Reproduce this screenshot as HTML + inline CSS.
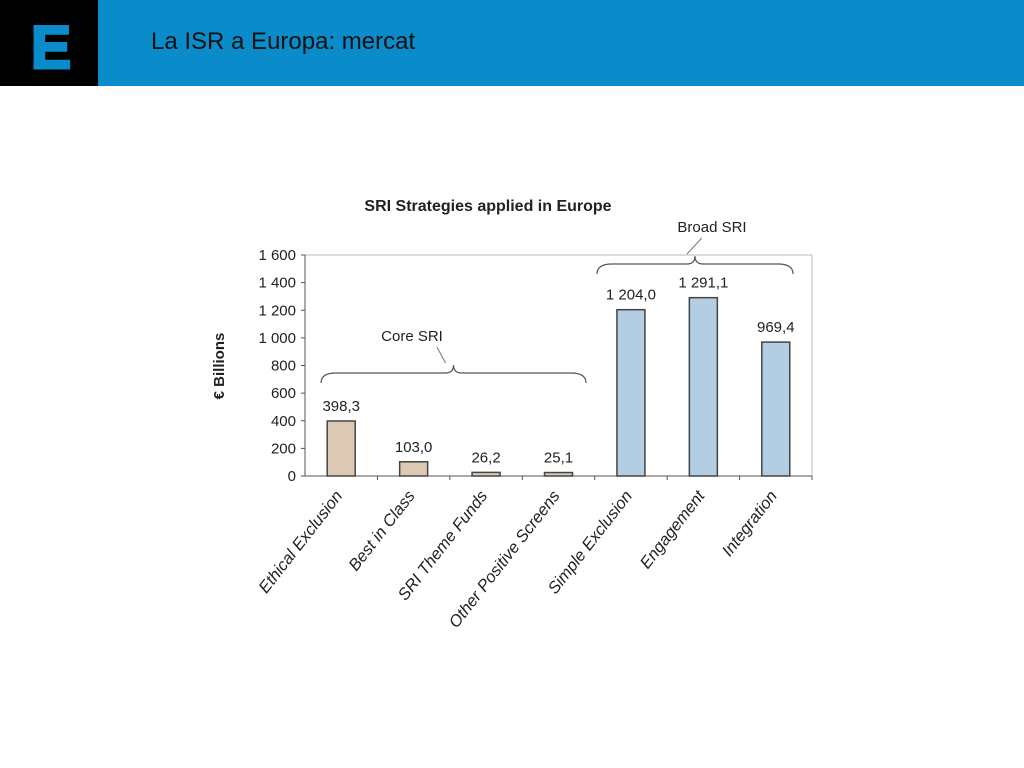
<!DOCTYPE html>
<html><head><meta charset="utf-8"><style>
body{margin:0;width:1024px;height:768px;background:#fff;overflow:hidden;font-family:"Liberation Sans",sans-serif}
#hdr{position:absolute;left:0;top:0;width:1024px;height:86px;background:#0a8cca}
#logo{position:absolute;left:0;top:0;width:98px;height:86px;background:#000}
</style></head><body>
<div id="hdr"></div>
<div id="logo"><svg width="98" height="86"><text x="51" y="68" text-anchor="middle" font-family="Liberation Sans" font-weight="bold" font-size="60" fill="#0a8cca" stroke="#0a8cca" stroke-width="3">E</text></svg></div>
<div style="position:absolute;left:151px;top:28px;font-size:24px;color:#111">La ISR a Europa: mercat</div>
<svg id="c" width="1024" height="768" style="position:absolute;left:0;top:0"></svg>
<script>
const categories=["Ethical Exclusion","Best in Class","SRI Theme Funds","Other Positive Screens","Simple Exclusion","Engagement","Integration"];
const values=[398.3,103.0,26.2,25.1,1204.0,1291.1,969.4];
const valueLabels=["398,3","103,0","26,2","25,1","1 204,0","1 291,1","969,4"];
const groups=["core","core","core","core","broad","broad","broad"];
const ticks=[0,200,400,600,800,1000,1200,1400,1600];
const tickLabels=["0","200","400","600","800","1 000","1 200","1 400","1 600"];
const svg=document.getElementById('c');const NS="http://www.w3.org/2000/svg";
const L=305,R=812,T=255,B=476,max=1600;
const y=v=>B-(v/max)*(B-T);const step=(R-L)/categories.length;const x=i=>L+step*(i+0.5);
function mk(t,a,p){const e=document.createElementNS(NS,t);for(const k in a)e.setAttribute(k,a[k]);(p||svg).appendChild(e);return e;}
let e=mk('rect',{x:L,y:T,width:R-L,height:B-T,fill:'none',stroke:'#bbb'});


e=mk('text',{x:488,y:211,'text-anchor':'middle','font-size':16,'font-weight':'bold',fill:'#222'});e.textContent='SRI Strategies applied in Europe';


e=mk('text',{x:0,y:0,transform:'translate(224,366) rotate(-90)','text-anchor':'middle','font-size':15,'font-weight':'bold',fill:'#222'});e.textContent='€ Billions';


mk('line',{x1:L,y1:T,x2:L,y2:B,stroke:'#555'});
mk('line',{x1:L,y1:B,x2:R,y2:B,stroke:'#555'});
ticks.forEach((t,i)=>{mk('line',{x1:L-4,y1:y(t),x2:L,y2:y(t),stroke:'#555'});
const tx=mk('text',{x:L-9,y:y(t)+5,'text-anchor':'end','font-size':15,fill:'#222'});tx.textContent=tickLabels[i];

});
categories.forEach((c,i)=>{
mk('line',{x1:L+step*(i+1),y1:B,x2:L+step*(i+1),y2:B+4,stroke:'#555'});
const core=groups[i]==='core';
const b=mk('rect',{x:x(i)-14,y:y(values[i]),width:28,height:B-y(values[i]),fill:core?'#dbc9b3':'#b3cde3',stroke:'#444','stroke-width':1.5});


const v=mk('text',{x:x(i),y:y(values[i])-10,'text-anchor':'middle','font-size':15,fill:'#222'});v.textContent=valueLabels[i];


const cl=mk('text',{x:0,y:0,transform:`translate(${x(i)+2},${B+20}) rotate(-52)`,'text-anchor':'end','font-size':16.5,'font-style':'italic',fill:'#222'});cl.textContent=c;


});
function brace(x1,x2,yy,lbl,lx,ly,name){
const m=(x1+x2)/2;
mk('path',{d:`M${x1},${yy+10} Q${x1},${yy} ${x1+15},${yy} L${m-8},${yy} Q${m},${yy} ${m},${yy-8} Q${m},${yy} ${m+8},${yy} L${x2-15},${yy} Q${x2},${yy} ${x2},${yy+10}`,fill:'none',stroke:'#555','stroke-width':1.2});
mk('line',{x1:m-8,y1:yy-10,x2:m+(lx-m)*0.4,y2:ly+6,stroke:'#777'});
const t=mk('text',{x:lx,y:ly,'text-anchor':'middle','font-size':15,fill:'#222'});t.textContent=lbl;

}
brace(321,586,373,'Core SRI',412,341,'core-sri-label');
brace(597,793,264,'Broad SRI',712,232,'broad-sri-label');
</script></body></html>
